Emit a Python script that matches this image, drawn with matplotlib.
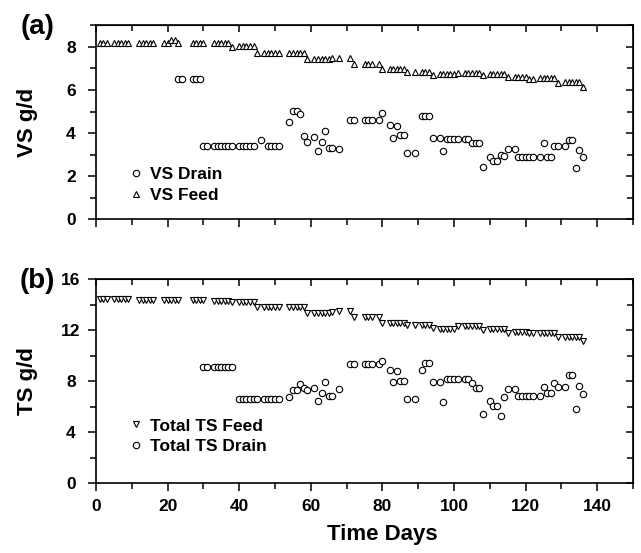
import matplotlib
matplotlib.use("Agg")
import matplotlib.pyplot as plt
from matplotlib.ticker import MultipleLocator

plt.rcParams["font.family"] = ["Liberation Sans", "DejaVu Sans"]
plt.rcParams["font.weight"] = "bold"

# ── data ────────────────────────────────────────────────────────────────────
feed_days = [1, 2, 3,
             5, 6, 7, 8, 9,
             12, 13, 14, 15, 16,
             19, 20, 21, 22, 23,
             27, 28, 29, 30,
             33, 34, 35, 36, 37, 38,
             40, 41, 42, 43, 44, 45,
             47, 48, 49, 50, 51,
             54, 55, 56, 57, 58, 59,
             61, 62, 63, 64, 65, 66,
             68,
             71, 72,
             75, 76, 77,
             79, 80,
             82, 83, 84, 85, 86, 87,
             89,
             91, 92, 93, 94,
             96, 97, 98, 99, 100, 101,
             103, 104, 105, 106, 107, 108,
             110, 111, 112, 113, 114, 115,
             117, 118, 119, 120, 121, 122,
             124, 125, 126, 127, 128, 129,
             131, 132, 133, 134, 135, 136]

vs_feed = [8.2, 8.2, 8.2,
           8.2, 8.2, 8.2, 8.2, 8.2,
           8.2, 8.2, 8.2, 8.2, 8.2,
           8.2, 8.2, 8.33, 8.33, 8.2,
           8.2, 8.2, 8.2, 8.2,
           8.2, 8.2, 8.2, 8.2, 8.2, 8.0,
           8.03, 8.03, 8.03, 8.03, 8.03, 7.72,
           7.72, 7.72, 7.72, 7.72, 7.72,
           7.72, 7.72, 7.72, 7.72, 7.72, 7.45,
           7.45, 7.45, 7.45, 7.45, 7.45, 7.47,
           7.5,
           7.5, 7.22,
           7.22, 7.22, 7.22,
           7.22, 6.98,
           6.98, 6.98, 6.98, 6.98, 6.98, 6.85,
           6.85,
           6.85, 6.85, 6.85, 6.71,
           6.72, 6.72, 6.72, 6.72, 6.72, 6.8,
           6.8, 6.8, 6.8, 6.8, 6.8, 6.7,
           6.72, 6.72, 6.72, 6.72, 6.72, 6.59,
           6.6, 6.6, 6.6, 6.6, 6.52, 6.52,
           6.55, 6.55, 6.55, 6.55, 6.55, 6.32,
           6.35, 6.35, 6.35, 6.35, 6.35, 6.12]

ts_feed = [14.45, 14.45, 14.45,
           14.45, 14.45, 14.45, 14.45, 14.45,
           14.4, 14.4, 14.4, 14.4, 14.4,
           14.4, 14.4, 14.4, 14.4, 14.4,
           14.38, 14.38, 14.38, 14.38,
           14.33, 14.33, 14.33, 14.33, 14.33, 14.2,
           14.22, 14.22, 14.22, 14.22, 14.22, 13.8,
           13.8, 13.8, 13.8, 13.8, 13.8,
           13.82, 13.82, 13.82, 13.82, 13.82, 13.35,
           13.38, 13.38, 13.38, 13.38, 13.38, 13.45,
           13.5,
           13.5, 13.07,
           13.07, 13.07, 13.07,
           13.07, 12.6,
           12.6, 12.6, 12.6, 12.6, 12.6, 12.4,
           12.4,
           12.45, 12.45, 12.45, 12.15,
           12.1, 12.1, 12.1, 12.1, 12.1, 12.34,
           12.3, 12.3, 12.3, 12.3, 12.3, 12.05,
           12.07, 12.07, 12.07, 12.07, 12.07, 11.8,
           11.85, 11.85, 11.85, 11.85, 11.75, 11.75,
           11.8, 11.8, 11.8, 11.8, 11.8, 11.45,
           11.45, 11.45, 11.45, 11.45, 11.45, 11.16]

vs_drain_days = [23, 24,
                 27, 28, 29,
                 30, 31,
                 33, 34, 35, 36, 37, 38,
                 40, 41, 42, 43, 44,
                 46,
                 48, 49, 50, 51,
                 54, 55, 56, 57, 58, 59,
                 61, 62, 63, 64, 65, 66,
                 68,
                 71, 72,
                 75, 76, 77,
                 79, 80,
                 82, 83, 84, 85, 86, 87,
                 89,
                 91, 92, 93, 94,
                 96, 97, 98, 99, 100, 101,
                 103, 104, 105, 106, 107, 108,
                 110, 111, 112, 113, 114, 115,
                 117, 118, 119, 120, 121, 122,
                 124, 125, 126, 127, 128, 129,
                 131, 132, 133, 134, 135, 136]
vs_drain = [6.5, 6.5,
            6.5, 6.5, 6.5,
            3.38, 3.38,
            3.38, 3.38, 3.38, 3.38, 3.38, 3.38,
            3.38, 3.38, 3.38, 3.38, 3.38,
            3.66,
            3.38, 3.38, 3.38, 3.38,
            4.5, 5.04, 5.04, 4.9, 3.87, 3.58,
            3.83, 3.15, 3.6, 4.12, 3.3, 3.3,
            3.26,
            4.63, 4.63,
            4.63, 4.63, 4.63,
            4.63, 4.93,
            4.39, 3.77, 4.33, 3.92, 3.92, 3.08,
            3.08,
            4.8, 4.8, 4.8, 3.77,
            3.77, 3.19, 3.72, 3.72, 3.72, 3.72,
            3.72, 3.72, 3.56, 3.56, 3.56, 2.45,
            2.88, 2.71, 2.71, 2.98, 2.93, 3.26,
            3.26, 2.87, 2.87, 2.87, 2.87, 2.87,
            2.87, 3.53, 2.9, 2.9, 3.42, 3.4,
            3.42, 3.67, 3.67, 2.4, 3.22, 2.87]

ts_drain_days = [30, 31,
                 33, 34, 35, 36, 37, 38,
                 40, 41, 42, 43, 44, 45,
                 47, 48, 49, 50, 51,
                 54, 55, 56, 57, 58, 59,
                 61, 62, 63, 64, 65, 66,
                 68,
                 71, 72,
                 75, 76, 77,
                 79, 80,
                 82, 83, 84, 85, 86, 87,
                 89,
                 91, 92, 93, 94,
                 96, 97, 98, 99, 100, 101,
                 103, 104, 105, 106, 107, 108,
                 110, 111, 112, 113, 114, 115,
                 117, 118, 119, 120, 121, 122,
                 124, 125, 126, 127, 128, 129,
                 131, 132, 133, 134, 135, 136]
ts_drain = [9.1, 9.1,
            9.1, 9.1, 9.1, 9.1, 9.1, 9.1,
            6.6, 6.6, 6.6, 6.6, 6.6, 6.6,
            6.6, 6.6, 6.6, 6.6, 6.6,
            6.74, 7.32, 7.32, 7.79, 7.44, 7.32,
            7.5, 6.48, 7.1, 7.94, 6.85, 6.85,
            7.42,
            9.36, 9.36,
            9.36, 9.36, 9.36,
            9.36, 9.6,
            8.91, 7.97, 8.8, 8.0, 8.0, 6.6,
            6.6,
            8.9, 9.45, 9.45, 7.94,
            7.94, 6.4, 8.2, 8.2, 8.2, 8.2,
            8.2, 8.2, 7.84, 7.5, 7.5, 5.46,
            6.48, 6.1, 6.1, 5.25, 6.78, 7.42,
            7.42, 6.88, 6.88, 6.88, 6.88, 6.88,
            6.88, 7.58, 7.06, 7.06, 7.89, 7.58,
            7.58, 8.5, 8.5, 5.8, 7.63, 6.98]

# ── figure ──────────────────────────────────────────────────────────────────
fig = plt.figure(figsize=(6.41, 5.53), dpi=100)
ax1 = fig.add_axes([0.1498, 0.6034, 0.8378, 0.3508])
ax2 = fig.add_axes([0.1498, 0.1260, 0.8378, 0.3690])

mk = dict(linestyle="none", markerfacecolor="white", markeredgecolor="black",
          markeredgewidth=0.8)

ax1.plot(vs_drain_days, vs_drain, marker="o", markersize=4.6, label="VS Drain", **mk)
ax1.plot(feed_days, vs_feed, marker="^", markersize=4.8, label="VS Feed", **mk)

ax2.plot(feed_days, ts_feed, marker="v", markersize=4.8, label="Total TS Feed", **mk)
ax2.plot(ts_drain_days, ts_drain, marker="o", markersize=4.6, label="Total TS Drain", **mk)


def style(ax, ymax, ymajor, labels_x):
    ax.set_xlim(0, 150)
    ax.set_ylim(0, ymax)
    ax.xaxis.set_major_locator(MultipleLocator(20))
    ax.xaxis.set_minor_locator(MultipleLocator(10))
    ax.yaxis.set_major_locator(MultipleLocator(ymajor))
    ax.yaxis.set_minor_locator(MultipleLocator(ymajor / 2))
    ax.tick_params(which="both", direction="out", width=1.1, labelsize=12.5)
    ax.tick_params(which="major", length=6)
    ax.tick_params(which="minor", length=4)
    ax.tick_params(axis="x", pad=5.5)
    ax.tick_params(axis="y", pad=12)
    if not labels_x:
        ax.tick_params(axis="x", labelbottom=False)
    for s in ax.spines.values():
        s.set_linewidth(1.2)
    for lab in ax.get_xticklabels():
        lab.set_fontweight("bold")
    for lab in ax.get_yticklabels():
        lab.set_fontweight("bold")
        lab.set_horizontalalignment("center")
    # inward ticks on top and right
    top = ax.secondary_xaxis("top")
    top.xaxis.set_major_locator(MultipleLocator(20))
    top.xaxis.set_minor_locator(MultipleLocator(10))
    top.tick_params(which="both", direction="in", width=1.1, labeltop=False)
    top.tick_params(which="major", length=5)
    top.tick_params(which="minor", length=4)
    right = ax.secondary_yaxis("right")
    right.yaxis.set_major_locator(MultipleLocator(ymajor))
    right.yaxis.set_minor_locator(MultipleLocator(ymajor / 2))
    right.tick_params(which="both", direction="in", width=1.1, labelright=False)
    right.tick_params(which="major", length=5)
    right.tick_params(which="minor", length=4)


style(ax1, 9, 2, False)
style(ax2, 16, 4, True)

ax1.set_ylabel("VS g/d", fontsize=16, fontweight="bold")
ax2.set_ylabel("TS g/d", fontsize=16, fontweight="bold")
ax1.yaxis.set_label_coords(-0.108, 0.5)
ax2.yaxis.set_label_coords(-0.108, 0.5)
ax2.set_xlabel("Time Days", fontsize=16, fontweight="bold")
ax2.xaxis.set_label_coords(0.533, -0.2)

leg_kw = dict(frameon=False, fontsize=12.5, handlelength=0.8, handletextpad=0.4,
              labelspacing=0.3, borderaxespad=0)
leg1 = ax1.legend(loc="lower left", bbox_to_anchor=(0.048, 0.05), **leg_kw)
leg2 = ax2.legend(loc="lower left", bbox_to_anchor=(0.048, 0.11), **leg_kw)
for leg in (leg1, leg2):
    for t in leg.get_texts():
        t.set_fontweight("bold")

fig.text(0.058, 0.952, "(a)", fontsize=20, fontweight="bold", ha="center", va="center")
fig.text(0.058, 0.492, "(b)", fontsize=20, fontweight="bold", ha="center", va="center")

fig.savefig("out.png", dpi=100)
